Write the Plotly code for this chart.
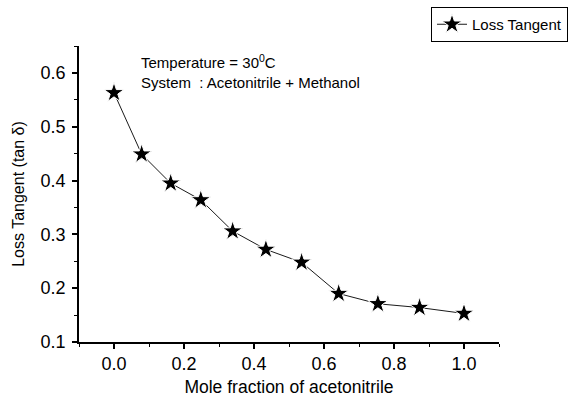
import plotly.graph_objects as go

mole_fraction = [0.0, 0.079, 0.162, 0.248, 0.339, 0.434, 0.536, 0.642, 0.754, 0.873, 1.0]
loss_tangent = [0.563, 0.449, 0.395, 0.364, 0.306, 0.272, 0.248, 0.190, 0.171, 0.164, 0.153]
x_ticks = [0.0, 0.2, 0.4, 0.6, 0.8, 1.0]
x_tick_labels = ["0.0", "0.2", "0.4", "0.6", "0.8", "1.0"]
y_ticks = [0.1, 0.2, 0.3, 0.4, 0.5, 0.6]
y_tick_labels = ["0.1", "0.2", "0.3", "0.4", "0.5", "0.6"]

FONT = "Liberation Sans, Arial, sans-serif"
T, B, L, R = 46, 55, 79, 69
PH = 397 - T - B
PW = 568 - L - R

fig = go.Figure()
fig.add_trace(go.Scatter(
    x=mole_fraction, y=loss_tangent, mode="lines+markers", name="Loss Tangent",
    line=dict(color="black", width=0.9),
    marker=dict(symbol="star", size=15, color="black", line=dict(color="white", width=1)),
))

fig.update_layout(
    width=568, height=397,
    margin=dict(l=L, r=R, t=T, b=B, autoexpand=False),
    paper_bgcolor="white", plot_bgcolor="white",
    font=dict(family=FONT, color="black"),
    showlegend=True,
    legend=dict(
        xref="container", yref="container", x=1.0, xanchor="right", y=1 - 24.5 / 397, yanchor="middle",
        bordercolor="black", borderwidth=1, bgcolor="white",
        font=dict(size=15, family=FONT), tracegroupgap=0,
    ),
    xaxis=dict(
        range=[-0.1, 1.1], tickvals=x_ticks, ticktext=x_tick_labels,
        showline=True, linecolor="black", linewidth=1.5, mirror=False,
        ticks="outside", ticklen=5, tickwidth=1.5, tickcolor="black",
        minor=dict(dtick=0.1, tick0=-0.1, ticks="outside", ticklen=3, tickwidth=1.2, tickcolor="black", showgrid=False),
        showgrid=False, zeroline=False, automargin=False,
        tickfont=dict(size=18, family=FONT),
        title=dict(text="Mole fraction of acetonitrile", font=dict(size=17.5, family=FONT), standoff=12),
    ),
    yaxis=dict(
        range=[0.1, 0.65], tickvals=y_ticks, ticktext=y_tick_labels,
        showline=True, linecolor="black", linewidth=1.5, mirror=False,
        ticks="outside", ticklen=5, tickwidth=1.5, tickcolor="black",
        minor=dict(dtick=0.05, tick0=0.1, ticks="outside", ticklen=3, tickwidth=1.2, tickcolor="black", showgrid=False),
        showgrid=False, zeroline=False, automargin=False,
        tickfont=dict(size=18, family=FONT), ticklabelstandoff=3,
        title=dict(text="Loss Tangent (tan δ)", font=dict(size=16, family=FONT), standoff=12),
    ),
)

fig.add_annotation(
    xref="paper", yref="paper", x=(139 - L) / PW, y=(342 - 50) / PH, xanchor="left", yanchor="top",
    text="Temperature = 30<sup>0</sup>C<br>System  : Acetonitrile + Methanol",
    showarrow=False, align="left", font=dict(size=15, family=FONT),
)

fig.write_html("out.html")
